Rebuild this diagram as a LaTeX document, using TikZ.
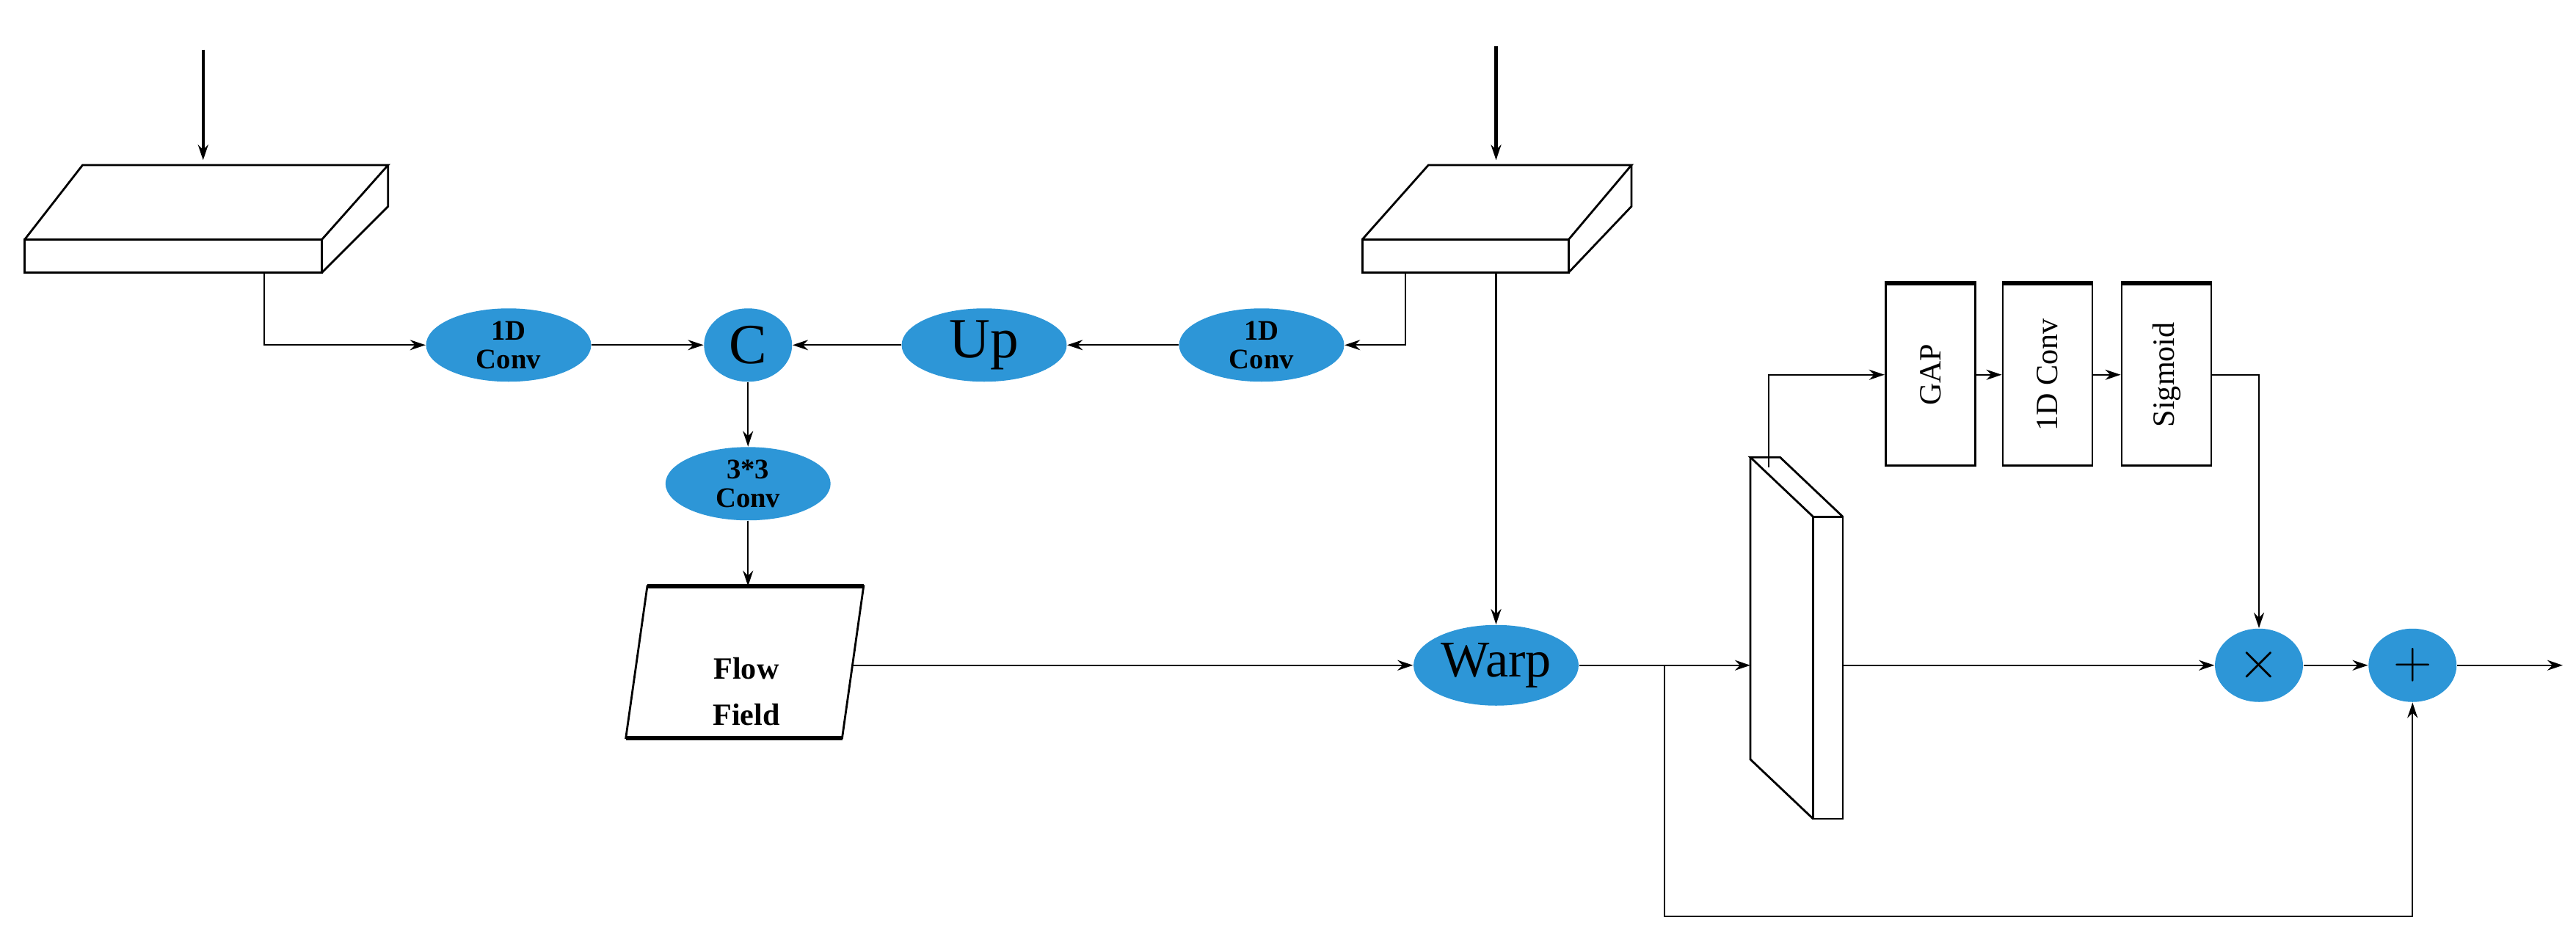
\documentclass[tikz,border=0pt]{standalone}
\usepackage{fontspec}
\setmainfont{Liberation Serif}
\usetikzlibrary{shapes.geometric,arrows.meta}
\definecolor{bl}{RGB}{45,150,215}
\begin{document}
\begin{tikzpicture}[x=0.0225cm,y=-0.0225cm,
 ell/.style={ellipse,fill=bl,draw=none,minimum width=2.25cm,minimum height=1cm,inner sep=0pt,font=\bfseries\fontsize{11}{11}\selectfont,align=center},
 sm/.style={ellipse,fill=bl,draw=none,minimum width=1.2cm,minimum height=1cm,inner sep=0pt,font=\fontsize{22}{22}\selectfont},
 box/.style={draw,thick,minimum width=1.22cm,minimum height=2.47cm,inner sep=0pt},
 ar/.style={-{Stealth[length=6pt,width=4pt]},line width=0.6pt},
 ln/.style={line width=0.6pt}]
\useasboundingbox (0,0) rectangle (1560,572.4);
% slabs
\draw[line width=0.8pt] (15,145) rectangle (195,165);
\draw[line width=0.8pt] (15,145) -- (50,100) -- (235,100) -- (195,145);
\draw[line width=0.8pt] (235,100) -- (235,125) -- (195,165);
\draw[line width=0.8pt] (825,145) rectangle (950,165);
\draw[line width=0.8pt] (825,145) -- (865,100) -- (988,100) -- (950,145);
\draw[line width=0.8pt] (988,100) -- (988,125) -- (950,165);
\coordinate (a1) at (123,30); \coordinate (a1e) at (123,97);
\coordinate (a2) at (906,28); \coordinate (a2e) at (906,97);
\draw[ar,line width=1.2pt] (a1) -- (a1e);
\draw[ar,line width=1.2pt] (a2) -- (a2e);
\coordinate (s1) at (160,165); \coordinate (s2) at (851,165); \coordinate (s3) at (906,165);
% ellipses
\node[ell] (c1) at (308,209) {1D\\Conv};
\node[sm] (cc) at (453,209) {C};
\node[ell,font=\fontsize{22}{22}\selectfont] (up) at (596,209) {Up};
\node[ell] (c2) at (764,209) {1D\\Conv};
\node[ell] (c3) at (453,293) {3*3\\Conv};
\node[ell,minimum height=1.1cm,font=\fontsize{20}{20}\selectfont] (warp) at (906,403) {Warp};
\node[sm] (mul) at (1368,403) {$\times$};
\node[sm] (add) at (1461,403) {$+$};
% flow field
\draw[line width=0.8pt] (392,355) -- (523,355) -- (510,447) -- (379,447) -- cycle;
\draw[line width=1.6pt] (392,355) -- (523,355) (379,447) -- (510,447);
\node[font=\bfseries\fontsize{12}{12}\selectfont] (ffa) at (452,405) {Flow};
\node[font=\bfseries\fontsize{12}{12}\selectfont] (ffb) at (452,433) {Field};
\coordinate (ff) at (453,355); \coordinate (ffr) at (517,403);
% vertical slab
\draw[line width=0.8pt] (1098,313) rectangle (1116,496);
\draw[line width=0.8pt] (1098,313) -- (1060,277) -- (1078,277) -- (1116,313);
\draw[line width=0.8pt] (1060,277) -- (1060,460) -- (1098,496);
\coordinate (vl) at (1060,403); \coordinate (vr) at (1116,403); \coordinate (vt) at (1071,283);
% boxes
\node[box] (gap) at (1169,227) {\rotatebox{90}{\fontsize{12}{12}\selectfont GAP}};
\node[box] (cv) at (1240,227) {\rotatebox{90}{\fontsize{12}{12}\selectfont 1D Conv}};
\node[box] (sg) at (1312,227) {\rotatebox{90}{\fontsize{12}{12}\selectfont Sigmoid}};
\draw[line width=1.6pt] (gap.north west) -- (gap.north east) (cv.north west) -- (cv.north east) (sg.north west) -- (sg.north east);
% connectors
\draw[ar] (s1) |- (c1.west);
\draw[ar] (c1) -- (cc);
\draw[ar] (up) -- (cc);
\draw[ar] (c2) -- (up);
\draw[ar] (s2) |- (c2.east);
\draw[ar] (cc) -- (c3);
\draw[ar] (c3) -- (ff);
\draw[ar] (ffr) -- (warp.west);
\draw[ar] (s3) -- (warp.north);
\draw[ar] (warp.east) -- (vl);
\coordinate (br) at (1008,403);
\draw[ar] (br) -- (1008,555) -| (add.south);
\draw[ar] (vt) |- (gap.west);
\draw[ar] (gap) -- (cv);
\draw[ar] (cv) -- (sg);
\draw[ar] (sg.east) -| (mul.north);
\draw[ar] (vr) -- (mul.west);
\draw[ar] (mul) -- (add);
\coordinate (out) at (1552,403);
\draw[ar] (add) -- (out);
\end{tikzpicture}
\end{document}
